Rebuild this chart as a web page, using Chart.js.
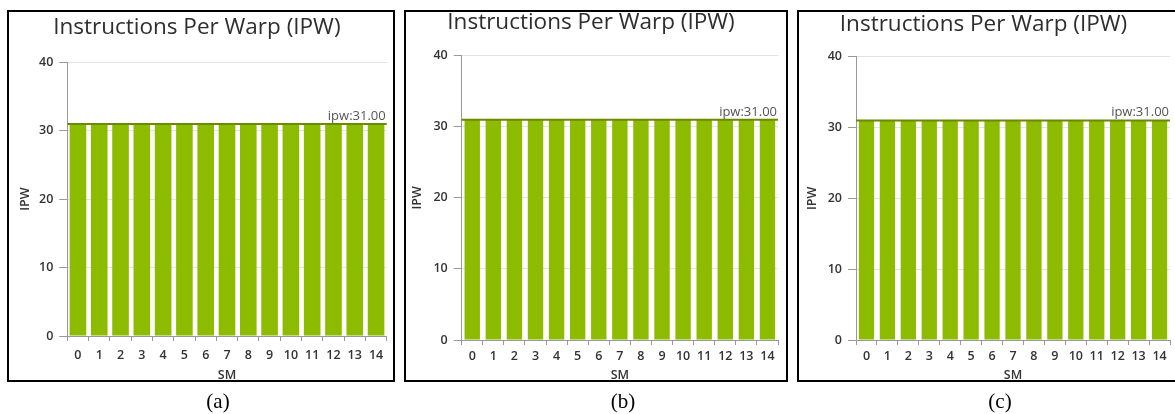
<!DOCTYPE html>
<html>
<head>
<meta charset="utf-8">
<script src="https://cdn.jsdelivr.net/npm/chart.js@4.4.1/dist/chart.umd.min.js"></script>
<style>
  html, body { margin: 0; padding: 0; background: #fff; }
  body { width: 1175px; height: 414px; position: relative; overflow: hidden; }
  canvas { position: absolute; }
  .frame { position: absolute; box-sizing: border-box; border: 2px solid #000; pointer-events: none; }
  .caption { position: absolute; top: 388px; width: 60px; margin-left: -30px; text-align: center;
             font-family: "Liberation Serif", "Times New Roman", serif; font-size: 21px; color: #000; line-height: 26px; }
</style>
</head>
<body>
<script>
// SM indices on the x axis
const smLabels = ['0', '1', '2', '3', '4', '5', '6', '7', '8', '9', '10', '11', '12', '13', '14'];

// Instructions per warp for each SM, one array per run
const ipwRunA = [31, 31, 31, 31, 31, 31, 31, 31, 31, 31, 31, 31, 31, 31, 31];
const ipwRunB = [31, 31, 31, 31, 31, 31, 31, 31, 31, 31, 31, 31, 31, 31, 31];
const ipwRunC = [31, 31, 31, 31, 31, 31, 31, 31, 31, 31, 31, 31, 31, 31, 31];

// Average IPW of each run, shown as the reference line
const ipwAverages = [31.00, 31.00, 31.00];

// Value axis ticks
const ipwTicks = [0, 10, 20, 30, 40];

const runCaptions = ['(a)', '(b)', '(c)'];

const barGreen = '#8dbb00';
const lineOlive = '#6a8a00';
const uiFont = '"Open Sans", "Noto Sans", sans-serif';

// Horizontal average line with its "ipw:" label
const avgLinePlugin = {
  id: 'avgLine',
  afterDatasetsDraw(chart, args, opts) {
    const ctx = chart.ctx;
    const y = chart.scales.y.getPixelForValue(opts.value);
    const { left, right } = chart.chartArea;
    ctx.save();
    ctx.strokeStyle = lineOlive;
    ctx.lineWidth = 2;
    ctx.beginPath();
    ctx.moveTo(left, y);
    ctx.lineTo(right, y);
    ctx.stroke();
    ctx.fillStyle = '#555';
    ctx.font = '13px ' + uiFont;
    ctx.textAlign = 'right';
    ctx.textBaseline = 'alphabetic';
    ctx.fillText('ipw:' + opts.value.toFixed(2), right - 1, y - 4);
    ctx.restore();
  }
};

// Panel placement on the page
const panels = [
  { data: ipwRunA, avg: ipwAverages[0], caption: runCaptions[0], capX: 218,
    box: { L: 7, T: 10, R: 395, B: 382 },
    plot: { l: 67.3, r: 386.7, t: 62.3, b: 336 },
    titleY: 27.5, axisTitleX: 25, tickY: 355, smY: 375.7, barPct: 0.78 },
  { data: ipwRunB, avg: ipwAverages[1], caption: runCaptions[1], capX: 623,
    box: { L: 404, T: 10, R: 788, B: 382 },
    plot: { l: 461.7, r: 778, t: 55.7, b: 340 },
    titleY: 23, axisTitleX: 417, tickY: 356, smY: 375, barPct: 0.73 },
  { data: ipwRunC, avg: ipwAverages[2], caption: runCaptions[2], capX: 1000,
    box: { L: 797, T: 10, R: 1182, B: 382 },
    plot: { l: 856, r: 1170, t: 56.7, b: 340 },
    titleY: 25, axisTitleX: 812, tickY: 356, smY: 375, barPct: 0.73 }
];

panels.forEach(p => {
  const W = p.box.R - p.box.L;
  const H = p.box.B - p.box.T + 12;

  const canvas = document.createElement('canvas');
  canvas.width = W;
  canvas.height = H;
  canvas.style.left = p.box.L + 'px';
  canvas.style.top = p.box.T + 'px';
  canvas.style.width = W + 'px';
  canvas.style.height = H + 'px';
  document.body.appendChild(canvas);

  const frame = document.createElement('div');
  frame.className = 'frame';
  frame.style.left = p.box.L + 'px';
  frame.style.top = p.box.T + 'px';
  frame.style.width = W + 'px';
  frame.style.height = (p.box.B - p.box.T) + 'px';
  document.body.appendChild(frame);

  const cap = document.createElement('div');
  cap.className = 'caption';
  cap.style.left = p.capX + 'px';
  cap.textContent = p.caption;
  document.body.appendChild(cap);

  // Local chart-area geometry
  const areaL = p.plot.l - p.box.L;
  const areaR = p.plot.r - p.box.L;
  const areaT = p.plot.t - p.box.T;
  const areaB = p.plot.b - p.box.T;

  const titleSize = 22.5, titleLH = 1.2 * titleSize;
  const titlePadTop = (p.titleY - p.box.T) - titleLH / 2;
  const titlePadBottom = areaT - titlePadTop - titleLH;

  const axisFont = 12.5, axisLH = 1.2 * axisFont;
  const yTitlePad = (p.axisTitleX - p.box.L) - axisLH / 2;
  const xTitlePad = H - (p.smY - p.box.T) - axisLH / 2;
  const xTickPad = (p.tickY - p.plot.b) - 5 - axisLH / 2;
  const labelFont = { family: uiFont, size: axisFont, weight: '600' };

  new Chart(canvas, {
    type: 'bar',
    data: {
      labels: smLabels,
      datasets: [{
        label: 'ipw',
        data: p.data,
        backgroundColor: barGreen,
        borderWidth: 0,
        barPercentage: p.barPct,
        categoryPercentage: 1.0
      }]
    },
    options: {
      responsive: false,
      animation: false,
      devicePixelRatio: 1,
      layout: { padding: { left: 0, top: 0, right: W - areaR, bottom: 0 } },
      plugins: {
        legend: { display: false },
        tooltip: { enabled: false },
        title: {
          display: true,
          text: 'Instructions Per Warp (IPW)',
          color: '#2e2e2e',
          font: { family: uiFont, size: titleSize, weight: 'normal' },
          padding: { top: titlePadTop, bottom: titlePadBottom }
        },
        avgLine: { value: p.avg }
      },
      scales: {
        x: {
          offset: true,
          grid: { offset: true, drawOnChartArea: false, drawTicks: true, tickLength: 5, tickColor: '#999' },
          border: { color: '#999', width: 1 },
          ticks: { color: '#333', font: labelFont, padding: xTickPad, maxRotation: 0, autoSkip: false },
          title: { display: true, text: 'SM', color: '#333', font: labelFont,
                   padding: { top: 0, bottom: xTitlePad } },
          afterFit: s => { s.height = H - areaB; }
        },
        y: {
          min: ipwTicks[0],
          max: ipwTicks[ipwTicks.length - 1],
          afterBuildTicks: s => { s.ticks = ipwTicks.map(v => ({ value: v })); },
          grid: { color: '#e2e2e2', drawTicks: true, tickLength: 8, tickColor: '#999' },
          border: { color: '#999', width: 1 },
          ticks: { color: '#333', font: labelFont, padding: 6 },
          title: { display: true, text: 'IPW', color: '#333', font: labelFont,
                   padding: { top: yTitlePad, bottom: 0 } },
          afterFit: s => { s.width = areaL; }
        }
      }
    },
    plugins: [avgLinePlugin]
  });
});
</script>
</body>
</html>
